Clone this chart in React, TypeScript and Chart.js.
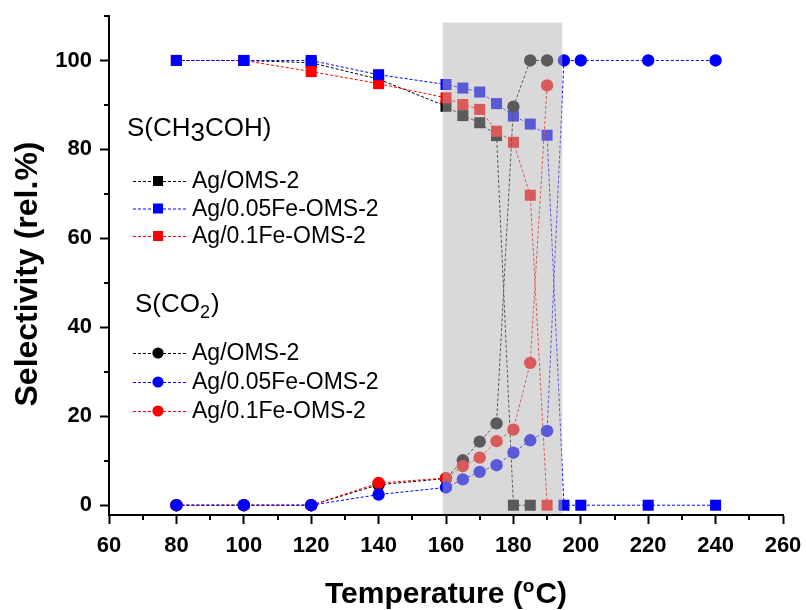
import React, { useEffect, useRef } from 'react';
import { Chart, registerables } from 'chart.js';

Chart.register(...registerables);

const FONT = "'Liberation Sans', Arial, Helvetica, sans-serif";

// ---- axis ticks ----
const X_TICKS = [60, 80, 100, 120, 140, 160, 180, 200, 220, 240, 260];
const X_MINOR = [70, 90, 110, 130, 150, 170, 190, 210, 230, 250];
const Y_TICKS = [0, 20, 40, 60, 80, 100];
const Y_MINOR = [10, 30, 50, 70, 90, 110];

// shaded temperature window
const BAND = [159, 194.5];
const BAND_TOP = 108.5;

// ---- series names ----
const SERIES_NAMES = ['Ag/OMS-2', 'Ag/0.05Fe-OMS-2', 'Ag/0.1Fe-OMS-2'];
const SERIES_COLORS = ['#000000', '#0000ff', '#ff0000'];

// ---- temperatures (°C) ----
const T_OMS2_ACET = [80, 100, 120, 140, 160, 165, 170, 175, 180, 185];
const T_OMS2_CO2 = [80, 100, 120, 140, 160, 165, 170, 175, 180, 185, 190];
const T_FE005 = [80, 100, 120, 140, 160, 165, 170, 175, 180, 185, 190, 195, 200, 220, 240];
const T_FE01 = [80, 100, 120, 140, 160, 165, 170, 175, 180, 185, 190];

// ---- S(CH3COH), rel.% ----
const ACET_OMS2 = [100, 100, 99.5, 95.8, 89.7, 87.6, 86.0, 83.1, 0, 0];
const ACET_FE005 = [100, 100, 100, 96.8, 94.6, 93.8, 92.9, 90.3, 87.5, 85.7, 83.2, 0, 0, 0, 0];
const ACET_FE01 = [100, 100, 97.5, 94.8, 91.6, 90.1, 89.0, 84.1, 81.6, 69.7, 0];

// ---- S(CO2), rel.% ----
const CO2_OMS2 = [0, 0, 0, 4.6, 6.0, 10.1, 14.3, 18.4, 89.6, 100, 100];
const CO2_FE005 = [0, 0, 0, 2.4, 4.0, 5.8, 7.5, 9.0, 11.8, 14.6, 16.7, 100, 100, 100, 100];
const CO2_FE01 = [0, 0, 0, 5.0, 6.1, 8.8, 10.7, 14.4, 17.0, 32.0, 94.4];

// target plot-area box
const AREA = { left: 109, top: 16, right: 783, bottom: 515 };

const pairs = (xs: number[], ys: number[]) => xs.map((x, i) => ({ x, y: ys[i] }));

function makeSet(label: string, xs: number[], ys: number[], color: string, style: 'rect' | 'circle', order: number) {
  return {
    label,
    data: pairs(xs, ys),
    borderColor: color,
    backgroundColor: color,
    borderWidth: 1,
    borderDash: [3, 2],
    pointStyle: style,
    pointRadius: style === 'rect' ? 7.8 : 6.2,
    pointBackgroundColor: color,
    pointBorderColor: color,
    pointBorderWidth: 0,
    showLine: true,
    tension: 0,
    order,
  };
}

const decorPlugin = {
  id: 'decor',
  afterDatasetsDraw(chart: any) {
    const { ctx, chartArea, scales } = chart;
    const xs = scales.x, ys = scales.y;
    const x0 = xs.getPixelForValue(BAND[0]);
    const x1 = xs.getPixelForValue(BAND[1]);
    const yt = ys.getPixelForValue(BAND_TOP);
    ctx.save();
    ctx.fillStyle = 'rgba(180,180,180,0.5)';
    ctx.fillRect(x0, yt, x1 - x0, chartArea.bottom - 1 - yt);
    ctx.restore();
  },
  afterDraw(chart: any) {
    const { ctx, chartArea, scales } = chart;
    const xs = scales.x, ys = scales.y;
    ctx.save();
    // minor ticks
    ctx.strokeStyle = '#000';
    ctx.lineWidth = 2;
    ctx.beginPath();
    X_MINOR.forEach((v) => {
      const px = Math.round(xs.getPixelForValue(v));
      ctx.moveTo(px, chartArea.bottom);
      ctx.lineTo(px, chartArea.bottom + 5);
    });
    Y_MINOR.forEach((v) => {
      const py = Math.round(ys.getPixelForValue(v));
      ctx.moveTo(chartArea.left, py);
      ctx.lineTo(chartArea.left - 5, py);
    });
    ctx.stroke();

    // axis titles
    ctx.fillStyle = '#000';
    ctx.textBaseline = 'alphabetic';
    const big = `bold 30px ${FONT}`;
    const sup = `bold 19px ${FONT}`;
    ctx.font = big;
    const p1 = 'Temperature (';
    const p3 = 'C)';
    const w1 = ctx.measureText(p1).width;
    const w3 = ctx.measureText(p3).width;
    ctx.font = sup;
    const w2 = ctx.measureText('o').width + 1;
    const cx = (chartArea.left + chartArea.right) / 2;
    const sx = cx - (w1 + w2 + w3) / 2;
    const by = 603;
    ctx.textAlign = 'left';
    ctx.font = big;
    ctx.fillText(p1, sx, by);
    ctx.font = sup;
    ctx.fillText('o', sx + w1, by - 11);
    ctx.font = big;
    ctx.fillText(p3, sx + w1 + w2, by);

    ctx.save();
    ctx.translate(37, 274);
    ctx.rotate(-Math.PI / 2);
    ctx.textAlign = 'center';
    ctx.font = `bold 32px ${FONT}`;
    ctx.fillText('Selectivity (rel.%)', 0, 0);
    ctx.restore();

    // legend annotations
    const reg = `26px ${FONT}`;
    const sub = `18px ${FONT}`;
    const item = `23px ${FONT}`;
    ctx.textAlign = 'left';
    // S(CH3COH)
    let tx = 127;
    ctx.font = reg;
    ctx.fillText('S(CH', tx, 136);
    tx += ctx.measureText('S(CH').width;
    ctx.fillText('3', tx, 141);
    tx += ctx.measureText('3').width;
    ctx.fillText('COH)', tx, 136);
    // S(CO2)
    tx = 135;
    ctx.fillText('S(CO', tx, 312);
    tx += ctx.measureText('S(CO').width;
    ctx.font = sub;
    ctx.fillText('2', tx, 318);
    tx += ctx.measureText('2').width + 1;
    ctx.font = reg;
    ctx.fillText(')', tx, 312);

    const drawItem = (yc: number, color: string, style: 'rect' | 'circle', name: string) => {
      ctx.save();
      ctx.strokeStyle = color;
      ctx.lineWidth = 1;
      ctx.setLineDash([3, 2]);
      ctx.beginPath();
      ctx.moveTo(133, yc + 0.5);
      ctx.lineTo(186, yc + 0.5);
      ctx.stroke();
      ctx.restore();
      ctx.fillStyle = color;
      if (style === 'rect') {
        ctx.fillRect(153, yc - 5, 10, 10);
      } else {
        ctx.beginPath();
        ctx.arc(158, yc, 5.6, 0, Math.PI * 2);
        ctx.fill();
      }
      ctx.fillStyle = '#000';
      ctx.font = item;
      ctx.textBaseline = 'middle';
      ctx.fillText(name, 192, yc + 1);
      ctx.textBaseline = 'alphabetic';
    };
    const rowsSq = [181, 208.5, 236];
    const rowsCi = [353, 382, 411];
    SERIES_NAMES.forEach((n, i) => drawItem(rowsSq[i], SERIES_COLORS[i], 'rect', n));
    SERIES_NAMES.forEach((n, i) => drawItem(rowsCi[i], SERIES_COLORS[i], 'circle', n));
    ctx.restore();
  },
};

export default function App() {
  const ref = useRef<HTMLCanvasElement>(null);
  useEffect(() => {
    document.body.style.margin = '0';
    const canvas = ref.current;
    if (!canvas) return;
    const tickFont = { family: FONT, size: 22, weight: 'bold' as const };
    const padding = { top: AREA.top, right: 806 - AREA.right, left: 0, bottom: 0 };
    const chart = new Chart(canvas, {
      type: 'line',
      data: {
        datasets: [
          makeSet(SERIES_NAMES[0] + ' S(CH3COH)', T_OMS2_ACET, ACET_OMS2, SERIES_COLORS[0], 'rect', 5),
          makeSet(SERIES_NAMES[2] + ' S(CH3COH)', T_FE01, ACET_FE01, SERIES_COLORS[2], 'rect', 4),
          makeSet(SERIES_NAMES[1] + ' S(CH3COH)', T_FE005, ACET_FE005, SERIES_COLORS[1], 'rect', 3),
          makeSet(SERIES_NAMES[0] + ' S(CO2)', T_OMS2_CO2, CO2_OMS2, SERIES_COLORS[0], 'circle', 2),
          makeSet(SERIES_NAMES[2] + ' S(CO2)', T_FE01, CO2_FE01, SERIES_COLORS[2], 'circle', 1),
          makeSet(SERIES_NAMES[1] + ' S(CO2)', T_FE005, CO2_FE005, SERIES_COLORS[1], 'circle', 0),
        ] as any,
      },
      options: {
        responsive: false,
        animation: false,
        layout: { padding },
        plugins: { legend: { display: false }, tooltip: { enabled: false } },
        scales: {
          x: {
            type: 'linear',
            min: 60,
            max: 260,
            afterBuildTicks: (s: any) => { s.ticks = X_TICKS.map((v) => ({ value: v })); },
            afterFit: (s: any) => {
              s.height = 610 - AREA.bottom;
              s.paddingLeft = 0; s.paddingRight = 0;
            },
            grid: { drawOnChartArea: false, drawTicks: true, tickLength: 9, tickWidth: 2, tickColor: '#000' },
            border: { display: true, color: '#000', width: 2 },
            ticks: { color: '#000', font: tickFont, padding: 9, maxRotation: 0, autoSkip: false },
          },
          y: {
            type: 'linear',
            min: -2.2,
            max: 110,
            afterBuildTicks: (s: any) => { s.ticks = Y_TICKS.map((v) => ({ value: v })); },
            afterFit: (s: any) => {
              s.width = AREA.left;
              s.paddingTop = 0; s.paddingBottom = 0;
            },
            grid: { drawOnChartArea: false, drawTicks: true, tickLength: 9, tickWidth: 2, tickColor: '#000' },
            border: { display: true, color: '#000', width: 2 },
            ticks: { color: '#000', font: tickFont, padding: 8, autoSkip: false },
          },
        },
      } as any,
      plugins: [decorPlugin],
    });
    // correct any offsets the layout engine added so the plot box lands on AREA
    const ca = chart.chartArea;
    const dTop = ca.top - AREA.top;
    const dRight = AREA.right - ca.right;
    if (Math.abs(dTop) > 0.5 || Math.abs(dRight) > 0.5) {
      padding.top = Math.max(0, padding.top - dTop);
      padding.right = Math.max(0, padding.right - dRight);
      (chart.options as any).layout.padding = { ...padding };
      chart.update();
    }
    return () => chart.destroy();
  }, []);
  return (
    <div style={{ width: 806, height: 610, background: '#fff' }}>
      <canvas ref={ref} width={806} height={610} style={{ display: 'block' }} />
    </div>
  );
}
